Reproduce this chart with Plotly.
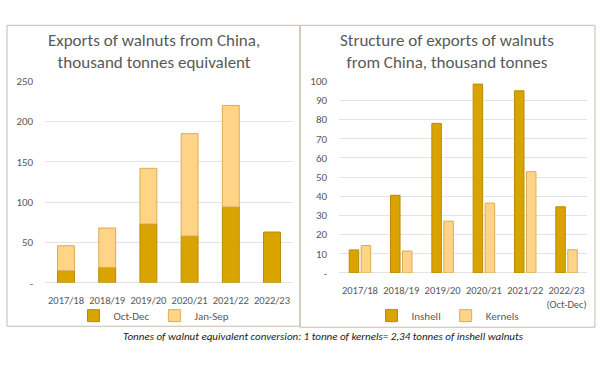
import plotly.graph_objects as go

# ---- data ----
seasons = ["2017/18", "2018/19", "2019/20", "2020/21", "2021/22", "2022/23"]
oct_dec = [15, 19, 73, 58, 94, 63]
jan_sep = [31, 49, 69, 127, 126, None]

right_ticklabels = ["2017/18", "2018/19", "2019/20", "2020/21", "2021/22", "2022/23<br>(Oct-Dec)"]
inshell = [12, 40.5, 78, 98.5, 95, 34.5]
kernels = [14.3, 11.4, 27, 36.4, 52.8, 12.1]

left_yticks = [0, 50, 100, 150, 200, 250]
left_yticktext = ["-", "50", "100", "150", "200", "250"]
right_yticks = [0, 10, 20, 30, 40, 50, 60, 70, 80, 90, 100]
right_yticktext = ["-", "10", "20", "30", "40", "50", "60", "70", "80", "90", "100"]

W, H = 600, 367
DARK = "#DAA400"
DARK_LINE = "#B98A08"
LIGHT = "#FFD486"
LIGHT_LINE = "#D9AC55"
TXT = "#595959"
GRID = "#E3E3E3"
FONT = "Carlito, Lato, sans-serif"

def px_x(v):
    return v / W

def px_y(v):
    return 1 - v / H

base_left = [a for a in oct_dec]

fig = go.Figure()
fig.add_trace(go.Bar(x=seasons, y=oct_dec, name="Oct-Dec", xaxis="x", yaxis="y",
                     marker=dict(color=DARK, line=dict(color=DARK_LINE, width=1)),
                     width=0.41, offset=-0.205, offsetgroup="L", legend="legend"))
fig.add_trace(go.Bar(x=seasons, y=jan_sep, base=base_left, name="Jan-Sep", xaxis="x", yaxis="y",
                     marker=dict(color=LIGHT, line=dict(color=LIGHT_LINE, width=1)),
                     width=0.41, offset=-0.205, offsetgroup="L", legend="legend"))
fig.add_trace(go.Bar(x=seasons, y=inshell, name="Inshell", xaxis="x2", yaxis="y2",
                     marker=dict(color=DARK, line=dict(color=DARK_LINE, width=1)),
                     width=0.23, offset=-0.26, offsetgroup="A", legend="legend2"))
fig.add_trace(go.Bar(x=seasons, y=kernels, name="Kernels", xaxis="x2", yaxis="y2",
                     marker=dict(color=LIGHT, line=dict(color=LIGHT_LINE, width=1)),
                     width=0.23, offset=0.03, offsetgroup="B", legend="legend2"))

yaxis_common = dict(showline=False, ticks="outside", ticklen=9, tickcolor="rgba(0,0,0,0)",
                    tickfont=dict(family=FONT, size=11, color=TXT),
                    showgrid=True, gridcolor=GRID, gridwidth=1,
                    zeroline=True, zerolinecolor=GRID, zerolinewidth=1)
xaxis_common = dict(showline=False, ticks="outside", ticklen=8, tickcolor="rgba(0,0,0,0)",
                    tickfont=dict(family=FONT, size=10.5, color=TXT),
                    tickangle=0, showgrid=False, zeroline=False)

fig.update_layout(
    width=W, height=H, autosize=False,
    margin=dict(l=0, r=0, t=0, b=0),
    paper_bgcolor="white", plot_bgcolor="white",
    barmode="group",
    font=dict(family=FONT, color=TXT),
    xaxis=dict(domain=[px_x(45.4), px_x(292.6)], anchor="y", **xaxis_common),
    yaxis=dict(domain=[px_y(287), px_y(78)], anchor="x", range=[0, 250],
               tickvals=left_yticks, ticktext=left_yticktext, **yaxis_common),
    xaxis2=dict(domain=[px_x(339.3), px_x(587.2)], anchor="y2",
                tickvals=seasons, ticktext=right_ticklabels, **xaxis_common),
    yaxis2=dict(domain=[px_y(276.7), px_y(78)], anchor="x2", range=[0, 100],
                tickvals=right_yticks, ticktext=right_yticktext, **yaxis_common),
    legend=dict(orientation="h", x=px_x(154), xanchor="center", y=px_y(321), yanchor="middle",
                font=dict(family=FONT, size=11, color=TXT), bgcolor="rgba(0,0,0,0)",
                itemwidth=30, traceorder="normal"),
    legend2=dict(orientation="h", x=px_x(448), xanchor="center", y=px_y(321), yanchor="middle",
                 font=dict(family=FONT, size=11, color=TXT), bgcolor="rgba(0,0,0,0)",
                 itemwidth=30, traceorder="normal"),
    shapes=[
        dict(type="rect", xref="paper", yref="paper",
             x0=px_x(7), x1=px_x(300), y0=px_y(332), y1=px_y(20),
             line=dict(color="#C9B9AA", width=1), fillcolor="rgba(0,0,0,0)", layer="below"),
        dict(type="rect", xref="paper", yref="paper",
             x0=px_x(300), x1=px_x(595), y0=px_y(333), y1=px_y(20),
             line=dict(color="#C9B9AA", width=1), fillcolor="rgba(0,0,0,0)", layer="below"),
    ],
    annotations=[
        dict(text="Exports of walnuts from China,<br>thousand tonnes equivalent",
             xref="paper", yref="paper", x=px_x(153.5), y=px_y(47.5),
             xanchor="center", yanchor="middle", showarrow=False,
             font=dict(family=FONT, size=17, color=TXT)),
        dict(text="Structure of exports of walnuts<br>from China, thousand tonnes",
             xref="paper", yref="paper", x=px_x(447), y=px_y(47.5),
             xanchor="center", yanchor="middle", showarrow=False,
             font=dict(family=FONT, size=17, color=TXT)),
        dict(text="<i>Tonnes of walnut equivalent conversion: 1 tonne of kernels= 2,34 tonnes of inshell walnuts</i>",
             xref="paper", yref="paper", x=px_x(323), y=px_y(343),
             xanchor="center", yanchor="middle", showarrow=False,
             font=dict(family=FONT, size=11, color="#1a1a1a")),
    ],
)

fig.write_html("out.html", config={"displayModeBar": False},
               post_script="document.body.style.margin='0';document.body.style.overflow='hidden';")
